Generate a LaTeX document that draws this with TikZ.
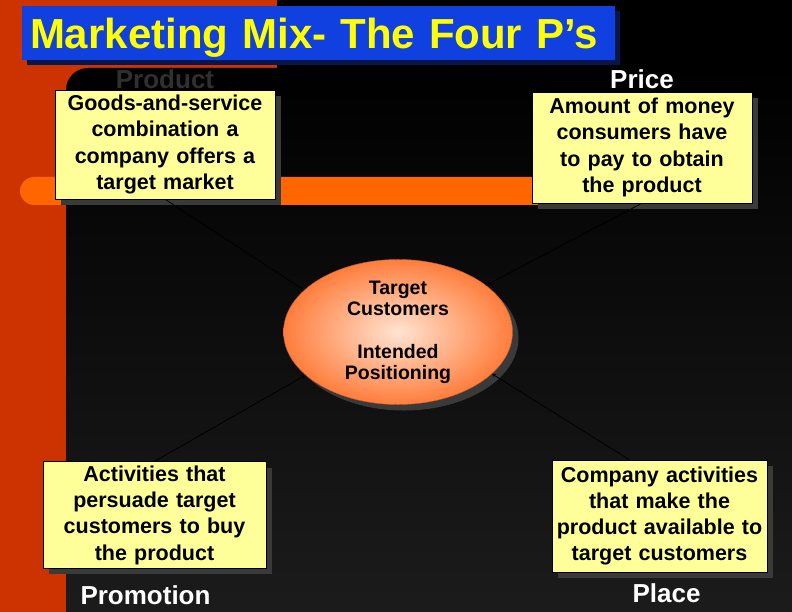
\documentclass[tikz,border=0pt]{standalone}
\usepackage{fontspec}
\setmainfont{Liberation Sans}
\usepackage{xcolor}
\usepackage{tikz}
\usetikzlibrary{shapes.geometric, arrows, positioning, shadows}
\definecolor{stripred}{RGB}{204,51,0}
\definecolor{barorange}{RGB}{255,102,0}
\definecolor{titleblue}{RGB}{16,64,224}
\definecolor{titleshade}{RGB}{10,22,70}
\definecolor{titleyellow}{RGB}{255,255,0}
\definecolor{noteyellow}{RGB}{255,255,153}
\definecolor{shadegray}{RGB}{58,58,58}
\definecolor{bottomgray}{RGB}{30,30,30}
\definecolor{ellouter}{RGB}{255,125,60}
\definecolor{ellinner}{RGB}{255,228,210}
\definecolor{ellline}{RGB}{210,95,40}
\definecolor{hiddengray}{RGB}{48,48,48}
\tikzstyle{headline} = [rectangle, fill=titleblue, text=titleyellow, font=\bfseries\fontsize{42}{46}\selectfont, text width=577pt, align=left, inner xsep=8pt, inner ysep=4pt, text height=39pt, text depth=7pt, general shadow={fill=titleshade, shadow xshift=5pt, shadow yshift=-5pt}]
\tikzstyle{note} = [rectangle, draw=black, fill=noteyellow, text centered, align=center, inner sep=4pt, font=\bfseries\fontsize{21.5}{26.3}\selectfont, general shadow={fill=shadegray, shadow xshift=6pt, shadow yshift=-6pt}]
\tikzstyle{hub} = [ellipse, minimum width=229pt, minimum height=141pt, inner sep=0pt, inner color=ellinner, outer color=ellouter, draw=ellline, align=center, font=\bfseries\fontsize{19.5}{21}\selectfont, general shadow={fill=shadegray, shadow xshift=6pt, shadow yshift=-6pt}]
\tikzstyle{plabel} = [inner sep=0pt, text=white, font=\bfseries\fontsize{26}{29}\selectfont]
\tikzstyle{arrow} = [thick,->,>=stealth]

\begin{document}
\begin{tikzpicture}[x=1pt, y=-1pt, node distance=1cm]
            \useasboundingbox (0,0) rectangle (792,612);
            \clip (0,0) rectangle (792,612);
            \fill[black] (0,0) rectangle (792,612);
            \fill[stripred] (0,0) rectangle (277,90);
            \fill[stripred] (0,0) rectangle (66,612);
            \shade[top color=black, bottom color=bottomgray, rounded corners=22pt] (66,68) rectangle (840,660);
            \fill[barorange, rounded corners=14pt] (20,177) rectangle (660,205);

            \node[headline] (title) at (318.5,33) {Marketing Mix- The Four P’s};
            \node[note, text width=212pt, minimum height=109pt] (prod) at (165,144.5) {Goods-and-service\\combination a\\company offers a\\target market};
            \node[note, text width=212pt, minimum height=111pt] (price) at (642,147.5) {Amount of money\\consumers have\\to pay to obtain\\the product};
            \node[note, text width=215pt, minimum height=102pt] (promo) at (154.5,515) {Activities that\\persuade target\\customers to buy\\the product};
            \node[note, text width=207pt, minimum height=112pt] (place) at (659.5,516) {Company activities\\that make the\\product available to\\target customers};
            \node[hub] (ell) at (398,332) {Target\\Customers\\[22pt]Intended\\Positioning};

            \node[plabel, text=hiddengray, above=1pt of prod] (prodlbl) {Product};
            \node[plabel, above=3pt of price] (pricelbl) {Price};
            \node[plabel, below=17pt of promo, xshift=-9pt] (promolbl) {Promotion};
            \node[plabel, below=11pt of place, xshift=7pt] (placelbl) {Place};

            \draw[arrow] (prod.south) -- (ell.156);
            \draw[arrow] (price.south) -- (ell.28);
            \draw[arrow] (promo.north) -- (ell.205);
            \draw[arrow] ([xshift=-30pt]place.north) -- (ell.336);
        \end{tikzpicture}
\end{document}
